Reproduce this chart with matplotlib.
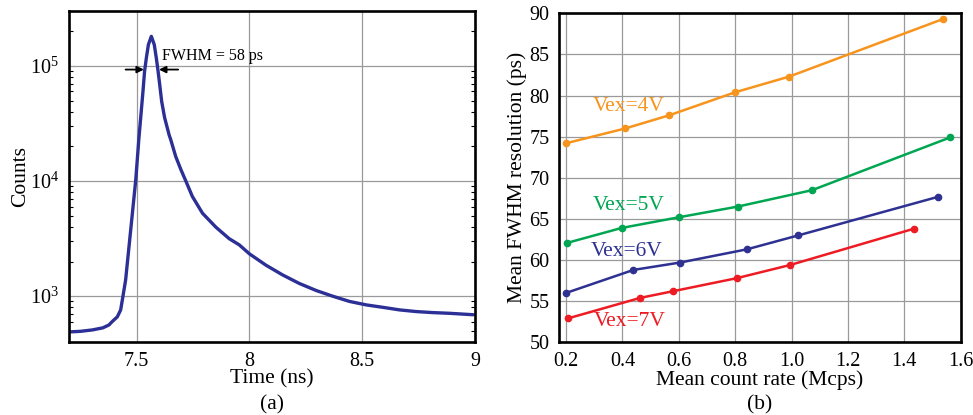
import matplotlib
matplotlib.use("Agg")
import matplotlib.pyplot as plt
from matplotlib.ticker import LogLocator, NullFormatter, FixedLocator

plt.rcParams['font.family'] = ['Liberation Serif', 'DejaVu Serif']
plt.rcParams['mathtext.fontset'] = 'custom'
plt.rcParams['mathtext.rm'] = 'Liberation Serif'
plt.rcParams['mathtext.it'] = 'Liberation Serif:italic'

# (a) timing histogram
time_ns = [7.207, 7.250, 7.303, 7.350, 7.377, 7.392, 7.414, 7.429, 7.439, 7.451,
           7.466, 7.481, 7.496, 7.510, 7.519, 7.528, 7.535, 7.543, 7.552, 7.565,
           7.578, 7.587, 7.595, 7.602, 7.611, 7.624, 7.644, 7.651, 7.673, 7.696,
           7.718, 7.747, 7.792, 7.851, 7.910, 7.955, 7.999, 8.073, 8.147, 8.221,
           8.296, 8.369, 8.444, 8.518, 8.592, 8.666, 8.740, 8.814, 8.888, 8.992]
counts = [490, 495, 509, 531, 562, 603, 661, 759, 993, 1380,
          2690, 5250, 10260, 23660, 37670, 60260, 89740, 117500, 153100, 180700,
          153100, 117500, 89740, 69180, 48980, 35480, 25120, 22910, 16370, 12590,
          10000, 7345, 5250, 3980, 3160, 2790, 2340, 1860, 1530, 1290,
          1120, 1000, 900, 840, 800, 760, 735, 720, 710, 690]

# (b) timing resolution vs count rate
rate_4v = [0.200, 0.410, 0.566, 0.800, 0.991, 1.537]
fwhm_4v = [74.2, 76.0, 77.6, 80.4, 82.3, 89.3]
rate_5v = [0.205, 0.397, 0.600, 0.809, 1.073, 1.562]
fwhm_5v = [62.1, 63.9, 65.2, 66.5, 68.5, 74.9]
rate_6v = [0.200, 0.439, 0.605, 0.841, 1.024, 1.521]
fwhm_6v = [56.0, 58.8, 59.7, 61.3, 63.0, 67.7]
rate_7v = [0.206, 0.463, 0.578, 0.806, 0.995, 1.433]
fwhm_7v = [52.9, 55.4, 56.2, 57.8, 59.4, 63.8]

series = [
    (rate_4v, fwhm_4v, '#f7941d', 'Vex=4V', 0.421, 78.65),
    (rate_5v, fwhm_5v, '#00a651', 'Vex=5V', 0.421, 66.6),
    (rate_6v, fwhm_6v, '#2e3192', 'Vex=6V', 0.416, 61.0),
    (rate_7v, fwhm_7v, '#ed1c24', 'Vex=7V', 0.427, 52.5),
]

W, H = 973, 415
fig = plt.figure(figsize=(W / 100, H / 100), dpi=100)

def box(x0, y0, x1, y1):
    return [x0 / W, 1 - y1 / H, (x1 - x0) / W, (y1 - y0) / H]

grid_kw = dict(color='#9a9a9a', linewidth=0.9)
tick_fs = 14.5
label_fs = 15.5

# ---- panel (a)
ax1 = fig.add_axes(box(69, 11, 475, 342))
ax1.plot(time_ns, counts, color='#2b2f96', linewidth=2.4,
         solid_joinstyle='round', solid_capstyle='round')
ax1.set_yscale('log')
ax1.set_xlim(7.2, 9.0)
ax1.set_ylim(400, 3.0e5)
ax1.set_xticks([7.5, 8, 8.5, 9])
ax1.set_xticklabels(['7.5', '8', '8.5', '9'])
ax1.yaxis.set_major_locator(FixedLocator([1e3, 1e4, 1e5]))
ax1.set_yticklabels([r'$10^3$', r'$10^4$', r'$10^5$'])
ax1.yaxis.set_minor_locator(LogLocator(base=10, subs=range(2, 10)))
ax1.yaxis.set_minor_formatter(NullFormatter())
ax1.grid(True, which='major', **grid_kw)
ax1.tick_params(axis='both', which='major', length=0, labelsize=tick_fs, pad=7)
ax1.tick_params(axis='y', which='minor', direction='in', length=3, width=0.8,
                left=True, right=True)
ax1.set_xlabel('Time (ns)', fontsize=label_fs)
ax1.set_ylabel('Counts', fontsize=label_fs)
ax1.xaxis.set_label_coords(0.5, -0.112)
ax1.xaxis.label.set_va('center')
ax1.yaxis.set_label_coords(-0.12, 0.5)
ax1.yaxis.label.set_va('center')

arrow_kw = dict(arrowstyle='-|>', color='black', lw=1.3, mutation_scale=10,
                shrinkA=0, shrinkB=0)
ax1.annotate('', xy=(7.532, 9.3e4), xytext=(7.451, 9.3e4), arrowprops=arrow_kw)
ax1.annotate('', xy=(7.599, 9.3e4), xytext=(7.684, 9.3e4), arrowprops=arrow_kw)
ax1.text(7.614, 1.21e5, 'FWHM = 58 ps', fontsize=11.5, va='center', ha='left')

# ---- panel (b)
ax2 = fig.add_axes(box(559.3, 13.3, 960.7, 342.3))
for x, y, c, name, lx, ly in series:
    ax2.plot(x, y, color=c, linewidth=1.8, marker='o', markersize=4.5)
    ax2.text(lx, ly, name, color=c, fontsize=15.5, ha='center', va='center')
ax2.set_xlim(0.176, 1.6)
ax2.set_ylim(50, 90)
ax2.set_xticks([0.2, 0.4, 0.6, 0.8, 1.0, 1.2, 1.4, 1.6])
ax2.set_xticklabels(['0.2', '0.4', '0.6', '0.8', '1.0', '1.2', '1.4', '1.6'])
ax2.set_yticks(range(50, 91, 5))
ax2.grid(True, **grid_kw)
ax2.tick_params(axis='both', which='major', length=0, labelsize=tick_fs, pad=7)
ax2.set_xlabel('Mean count rate (Mcps)', fontsize=label_fs)
ax2.set_ylabel('Mean FWHM resolution (ps)', fontsize=label_fs)
ax2.xaxis.set_label_coords(0.5, -0.114)
ax2.xaxis.label.set_va('center')
ax2.yaxis.set_label_coords(-0.106, 0.5)
ax2.yaxis.label.set_va('center')

for ax in (ax1, ax2):
    for s in ax.spines.values():
        s.set_linewidth(1.9)
        s.set_zorder(5)

fig.text(272 / W, 1 - 405 / H, '(a)', fontsize=label_fs, ha='center', va='center')
fig.text(760 / W, 1 - 405 / H, '(b)', fontsize=label_fs, ha='center', va='center')

fig.savefig('out.png', dpi=100)
